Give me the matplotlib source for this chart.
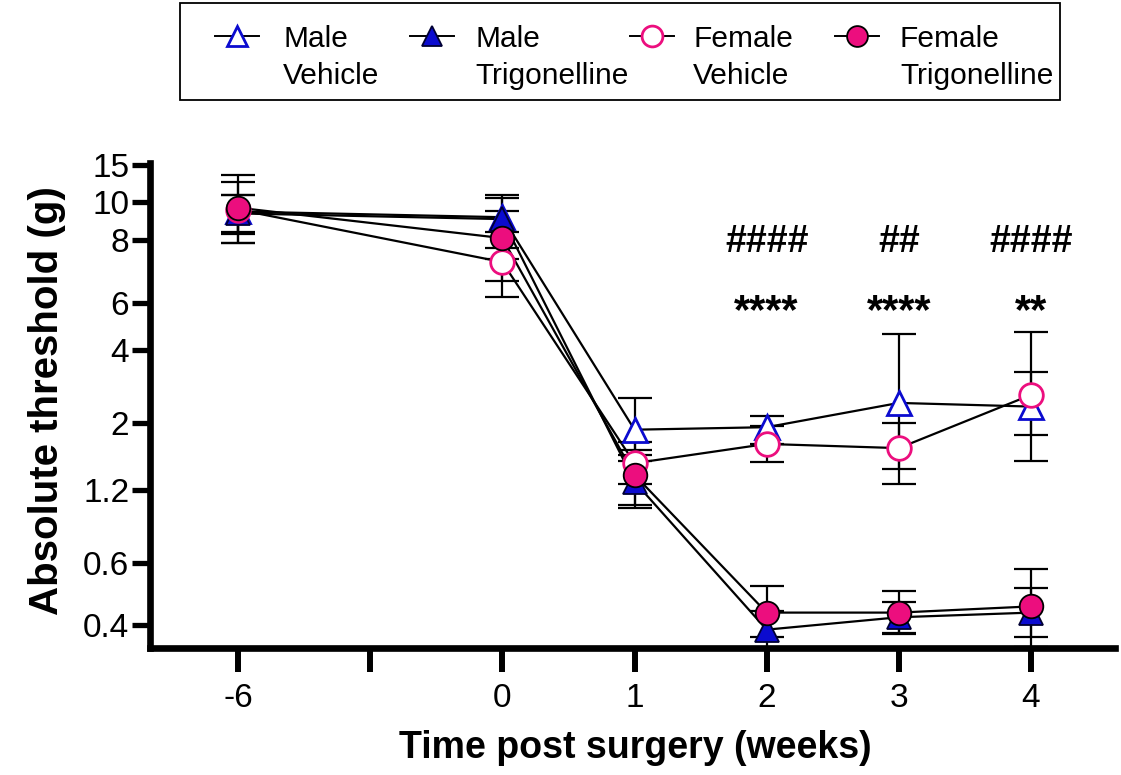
import numpy as np
import matplotlib
matplotlib.use("Agg")
import matplotlib.pyplot as plt
from matplotlib.lines import Line2D
from matplotlib.patches import Rectangle
from matplotlib.ticker import NullLocator
import matplotlib.transforms as mtransforms
from matplotlib import font_manager

plt.rcParams['font.family'] = ['Liberation Sans', 'DejaVu Sans']

# ---------------- data ----------------
x_labels = ['-6', '', '0', '1', '2', '3', '4']
week_idx = [0, 2, 3, 4, 5, 6]

y_ticks = [0.4, 0.6, 1.2, 2, 4, 6, 8, 10, 15]
y_tick_labels = ['0.4', '0.6', '1.2', '2', '4', '6', '8', '10', '15']
# relative axis position (pixels above x-axis) of each y tick in the original custom scale
y_tick_pos = [23, 85, 158, 225, 298, 345, 408, 446, 483]

male_veh = [9.5, 9.2, 1.92, 1.95, 2.55, 2.45]
male_veh_lo = [1.6, 1.8, 0.30, 0.20, 1.10, 0.90]
male_veh_hi = [4.1, 1.8, 0.76, 0.25, 2.15, 0.95]

male_trig = [9.4, 9.1, 1.30, 0.385, 0.425, 0.44]
male_trig_lo = [1.5, 1.35, 0.25, 0.06, 0.05, 0.11]
male_trig_hi = [1.5, 1.40, 0.25, 0.06, 0.05, 0.08]

female_veh = [9.6, 7.3, 1.52, 1.75, 1.70, 2.77]
female_veh_lo = [1.3, 1.1, 0.25, 0.22, 0.43, 0.91]
female_veh_hi = [1.3, 1.1, 0.25, 0.22, 0.30, 2.0]

female_trig = [9.7, 8.1, 1.38, 0.44, 0.44, 0.46]
female_trig_lo = [1.3, 1.4, 0.30, 0.08, 0.07, 0.10]
female_trig_hi = [3.0, 1.4, 0.30, 0.085, 0.07, 0.12]

hash_labels = ['####', '##', '####']
star_labels = ['****', '****', '**']
annot_idx = [4, 5, 6]

legend_labels = [('Male', 'Vehicle'), ('Male', 'Trigonelline'),
                 ('Female', 'Vehicle'), ('Female', 'Trigonelline')]

BLUE = '#0B0BCF'
PINK = '#EC0E7E'

# narrow font for tick labels if available
_names = {f.name for f in font_manager.fontManager.ttflist}
if 'Liberation Sans Narrow' in _names:
    TICK_FAMILY = ['Liberation Sans Narrow', 'Liberation Sans']
    TICK_SIZE = 27
else:
    TICK_FAMILY = ['Liberation Sans']
    TICK_SIZE = 24

# ---------------- figure ----------------
W, H = 1121, 775
fig = plt.figure(figsize=(W / 100, H / 100), dpi=100)


def fx(px):
    return px / W


def fy(py):
    return 1 - py / H


ax = fig.add_axes([fx(150), fy(648), fx(1115) - fx(150), fy(163) - fy(648)])

# custom (piecewise) y-scale reproducing the filament axis
ext_vals = np.array([0.2] + y_ticks + [30.0])
first_slope = (y_tick_pos[1] - y_tick_pos[0]) / (y_ticks[1] - y_ticks[0])
last_slope = (y_tick_pos[-1] - y_tick_pos[-2]) / (y_ticks[-1] - y_ticks[-2])
ext_pos = np.array([y_tick_pos[0] - first_slope * (y_ticks[0] - 0.2)] + y_tick_pos +
                   [y_tick_pos[-1] + last_slope * (30.0 - y_ticks[-1])])


def fwd(v):
    return np.interp(v, ext_vals, ext_pos)


def inv(p):
    return np.interp(p, ext_pos, ext_vals)


ax.set_yscale('function', functions=(fwd, inv))
ax.set_ylim(float(inv(0)), float(inv(485)))
ax.set_xlim((150 - 238) / 132.17, (1115 - 238) / 132.17)

series = [
    (male_veh, male_veh_lo, male_veh_hi,
     dict(marker='^', mfc='white', mec=BLUE, mew=2.0)),
    (male_trig, male_trig_lo, male_trig_hi,
     dict(marker='^', mfc=BLUE, mec='#000033', mew=1.3)),
    (female_veh, female_veh_lo, female_veh_hi,
     dict(marker='o', mfc='white', mec=PINK, mew=2.0)),
    (female_trig, female_trig_lo, female_trig_hi,
     dict(marker='o', mfc=PINK, mec='black', mew=1.3)),
]

for i, (vals, lo, hi, st) in enumerate(series):
    ax.plot(week_idx, vals, color='black', lw=1.6, zorder=2)
    ax.errorbar(week_idx, vals, yerr=[lo, hi], fmt='none', ecolor='black',
                elinewidth=1.6, capsize=12, capthick=1.6, zorder=3)
    ax.plot(week_idx, vals, ls='none', ms=17, zorder=5 + i, **st)

# axes styling
for s in ['top', 'right']:
    ax.spines[s].set_visible(False)
for s in ['left', 'bottom']:
    ax.spines[s].set_linewidth(4.8)
    ax.spines[s].set_capstyle('projecting')

ax.set_xticks(range(len(x_labels)))
ax.set_xticklabels(x_labels, family=TICK_FAMILY)
ax.set_yticks(y_ticks)
ax.set_yticklabels(y_tick_labels, family=TICK_FAMILY)
ax.yaxis.set_minor_locator(NullLocator())
ax.xaxis.set_minor_locator(NullLocator())
ax.tick_params(axis='y', length=13, width=3.8, pad=2, labelsize=TICK_SIZE)
ax.tick_params(axis='x', length=17, width=4.3, pad=8, labelsize=TICK_SIZE)

ax.set_xlabel('Time post surgery (weeks)', fontsize=27, fontweight='bold')
ax.xaxis.set_label_coords(fx(635), fy(758), transform=fig.transFigure)
ax.xaxis.label.set_va('baseline')
ax.set_ylabel('Absolute threshold (g)', fontsize=29, fontweight='bold')
ax.yaxis.set_label_coords(fx(47), fy(401), transform=fig.transFigure)
ax.yaxis.label.set_va('center')

# significance annotations
trans = mtransforms.blended_transform_factory(ax.transData, fig.transFigure)
for xi, hl, sl in zip(annot_idx, hash_labels, star_labels):
    ax.text(xi, fy(252), hl, transform=trans, ha='center', va='baseline',
            fontsize=27, fontweight='bold', clip_on=False)
    ax.text(xi, fy(323), sl, transform=trans, ha='center', va='baseline',
            fontsize=30, fontweight='bold', clip_on=False)

# legend (drawn manually to keep handles aligned with first text line)
fig.add_artist(Rectangle((fx(180), fy(100)), fx(1060) - fx(180), (100 - 3) / H,
                         transform=fig.transFigure, fill=False, edgecolor='black',
                         lw=1.3))
handle_cx = [237, 432, 652, 857]
text_x = [283, 475, 693, 900]
for (vals, lo, hi, st), cx, tx, (l1, l2) in zip(series, handle_cx, text_x, legend_labels):
    fig.add_artist(Line2D([fx(cx - 22), fx(cx), fx(cx + 22)], [fy(36)] * 3,
                          transform=fig.transFigure, color='black', lw=1.4,
                          markevery=[1], ms=15, **st))
    fig.text(fx(tx), fy(47), l1, fontsize=21.5, ha='left', va='baseline')
    fig.text(fx(tx), fy(84), l2, fontsize=21.5, ha='left', va='baseline')

fig.savefig('out.png', dpi=100)
